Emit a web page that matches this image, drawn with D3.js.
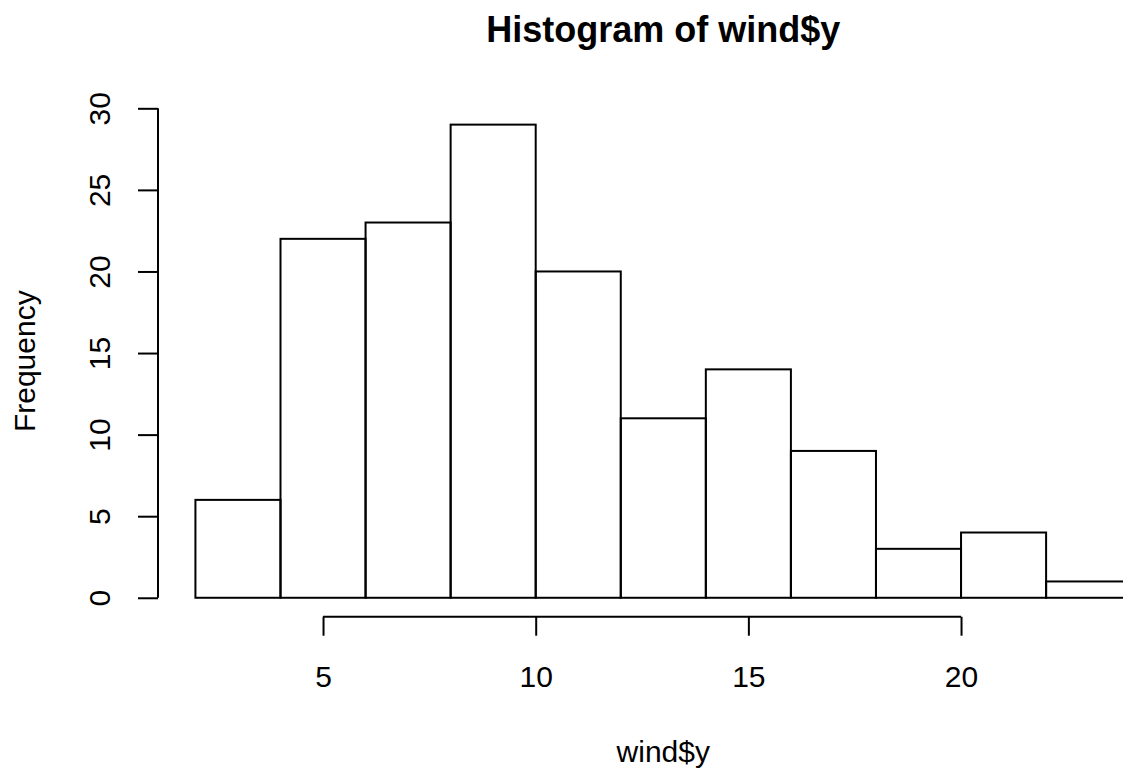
<!DOCTYPE html>
<html>
<head>
<meta charset="utf-8">
<script src="https://cdn.jsdelivr.net/npm/d3@7"></script>
<style>
  body { margin: 0; background: #fff; }
  svg { display: block; font-family: "Liberation Sans", Arial, sans-serif; }
</style>
</head>
<body>
<div id="chart"></div>
<script>
// histogram bins (wind$y) and counts
var breaks = [2, 4, 6, 8, 10, 12, 14, 16, 18, 20, 22, 24];
var counts = [6, 22, 23, 29, 20, 11, 14, 9, 3, 4, 1];
var xTicks = [5, 10, 15, 20];
var yTicks = [0, 5, 10, 15, 20, 25, 30];

var width = 1123, height = 768;

var bins = counts.map(function(c, i) {
    return { x0: breaks[i], x1: breaks[i + 1], n: c };
});

// R style 4% padding on both axes
var xlo = d3.min(breaks), xhi = d3.max(breaks),
    ylo = 0, yhi = d3.max(counts);
var xpad = (xhi - xlo) * 0.04, ypad = (yhi - ylo) * 0.04;

var x = d3.scaleLinear().domain([xlo - xpad, xhi + xpad]).range([158, 1168.6]);
var y = d3.scaleLinear().domain([ylo - ypad, yhi + ypad]).range([616.7, 105.7]);

var svg = d3.select('#chart').append('svg')
    .attr('width', width)
    .attr('height', height);

// bars
svg.append('g').selectAll('rect')
    .data(bins)
    .enter()
    .append('rect')
    .attr('x', function(d) { return x(d.x0); })
    .attr('y', function(d) { return y(d.n); })
    .attr('width', function(d) { return x(d.x1) - x(d.x0); })
    .attr('height', function(d) { return y(0) - y(d.n); })
    .style('fill', 'none')
    .style('stroke', '#000')
    .style('stroke-width', '2px');

// x axis, line only spans first..last tick like R
var gx = svg.append('g')
    .attr('transform', 'translate(0,' + y.range()[0] + ')')
    .call(d3.axisBottom(x).tickValues(xTicks).tickSize(19).tickSizeOuter(0));
gx.select('.domain').remove();
gx.append('line')
    .attr('x1', x(xTicks[0]))
    .attr('x2', x(xTicks[xTicks.length - 1]))
    .attr('stroke', '#000');
gx.selectAll('line').attr('stroke', '#000').attr('stroke-width', 2);
gx.selectAll('text')
    .attr('y', 70.3)
    .attr('dy', 0)
    .attr('fill', '#000')
    .style('font-size', '30px')
    .style('font-family', '"Liberation Sans", Arial, sans-serif');

// y axis, labels parallel to axis
var gy = svg.append('g')
    .attr('transform', 'translate(' + x.range()[0] + ',0)')
    .call(d3.axisLeft(y).tickValues(yTicks).tickSize(20).tickSizeOuter(0));
gy.select('.domain').remove();
gy.append('line')
    .attr('y1', y(yTicks[0]))
    .attr('y2', y(yTicks[yTicks.length - 1]));
gy.selectAll('line').attr('stroke', '#000').attr('stroke-width', 2);
gy.selectAll('text')
    .attr('x', 0)
    .attr('y', -48)
    .attr('dy', 0)
    .attr('transform', 'rotate(-90)')
    .attr('text-anchor', 'middle')
    .attr('fill', '#000')
    .style('font-size', '30px')
    .style('font-family', '"Liberation Sans", Arial, sans-serif');

var cx = (x.range()[0] + x.range()[1]) / 2,
    cy = (y.range()[0] + y.range()[1]) / 2;

// title and axis labels
svg.append('text')
    .attr('x', cx)
    .attr('y', 42)
    .attr('text-anchor', 'middle')
    .style('font-size', '36px')
    .style('font-weight', 'bold')
    .text('Histogram of wind$y');

svg.append('text')
    .attr('x', cx)
    .attr('y', 762)
    .attr('text-anchor', 'middle')
    .style('font-size', '30px')
    .text('wind$y');

svg.append('text')
    .attr('transform', 'translate(35,' + cy + ') rotate(-90)')
    .attr('text-anchor', 'middle')
    .style('font-size', '30px')
    .text('Frequency');
</script>
</body>
</html>
